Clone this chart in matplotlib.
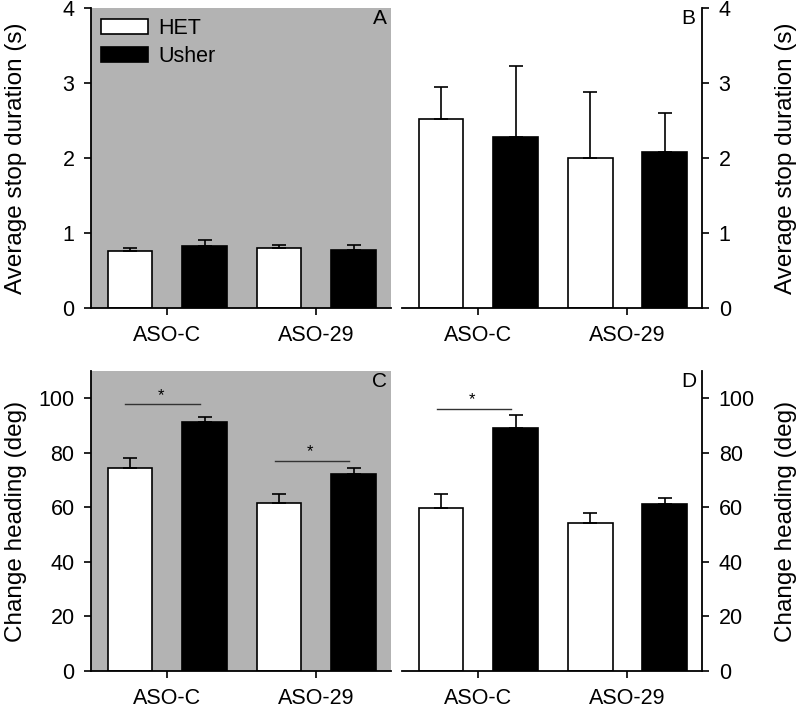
import numpy as np
import matplotlib
matplotlib.use('Agg')
import matplotlib.pyplot as plt
import matplotlib.patches as patches

plt.rcParams['font.family'] = ['Liberation Sans', 'DejaVu Sans']

# -- data
groups = ['ASO-C', 'ASO-29']
series = ['HET', 'Usher']

stop_dark_het = [0.76, 0.81]
stop_dark_het_err = [0.04, 0.04]
stop_dark_ush = [0.83, 0.78]
stop_dark_ush_err = [0.08, 0.07]

stop_light_het = [2.53, 2.00]
stop_light_het_err = [0.42, 0.89]
stop_light_ush = [2.28, 2.09]
stop_light_ush_err = [0.95, 0.51]

head_dark_het = [74.4, 61.6]
head_dark_het_err = [3.8, 3.4]
head_dark_ush = [91.2, 72.3]
head_dark_ush_err = [2.1, 2.2]

head_light_het = [59.7, 54.2]
head_light_het_err = [5.2, 3.7]
head_light_ush = [89.2, 61.1]
head_light_ush_err = [4.8, 2.4]

# significance bars: (group index, height)
sig_dark = [(0, 98.0), (1, 77.2)]
sig_light = [(0, 96.3)]

gray = '#b3b3b3'
fs = 15.5


def draw_panel(ax, het, het_err, ush, ush_err, letter, ylabel, ylim, yticks, shaded):
    x = np.arange(len(groups))
    w = 0.30
    off = 0.25
    ekw = dict(elinewidth=1.2, capthick=1.2, ecolor='black')
    ax.bar(x - off, het, w, color='white', edgecolor='black', linewidth=1.2,
           yerr=[np.zeros(len(het)), het_err], capsize=5, error_kw=ekw, zorder=2)
    ax.bar(x + off, ush, w, color='black', edgecolor='black', linewidth=1.2,
           yerr=[np.zeros(len(ush)), ush_err], capsize=5, error_kw=ekw, zorder=2)
    ax.set_xlim(-0.51, 1.5)
    ax.set_ylim(*ylim)
    ax.set_yticks(yticks)
    ax.set_xticks(x)
    ax.set_xticklabels(groups, fontsize=fs)
    ax.tick_params(axis='x', length=5, width=1.2, pad=7)
    ax.tick_params(axis='y', length=5, width=1.2, pad=7, labelsize=fs)
    ax.spines['top'].set_visible(False)
    for s in ['left', 'right', 'bottom']:
        ax.spines[s].set_linewidth(1.3)
    if shaded:
        ax.set_facecolor(gray)
        ax.spines['right'].set_visible(False)
        ax.set_ylabel(ylabel, fontsize=17.5)
        ax.yaxis.set_label_coords(-0.215, 0.5)
        ax.text(0.962, 0.965, letter, transform=ax.transAxes, fontsize=15,
                ha='center', va='center')
    else:
        ax.spines['left'].set_visible(False)
        ax.yaxis.tick_right()
        ax.yaxis.set_label_position('right')
        ax.set_ylabel(ylabel, fontsize=17.5)
        ax.yaxis.set_label_coords(1.245, 0.5)
        ax.text(0.955, 0.965, letter, transform=ax.transAxes, fontsize=15,
                ha='center', va='center')
    return ax


fig, axes = plt.subplots(2, 2, figsize=(8, 7.07), dpi=100)
fig.subplots_adjust(left=0.114, right=0.8775, top=0.988, bottom=0.051,
                    wspace=0.038, hspace=0.21)

axA, axB = axes[0]
axC, axD = axes[1]

draw_panel(axA, stop_dark_het, stop_dark_het_err, stop_dark_ush, stop_dark_ush_err,
           'A', 'Average stop duration (s)', (0, 4), [0, 1, 2, 3, 4], True)
draw_panel(axB, stop_light_het, stop_light_het_err, stop_light_ush, stop_light_ush_err,
           'B', 'Average stop duration (s)', (0, 4), [0, 1, 2, 3, 4], False)
draw_panel(axC, head_dark_het, head_dark_het_err, head_dark_ush, head_dark_ush_err,
           'C', 'Change heading (deg)', (0, 110), [0, 20, 40, 60, 80, 100], True)
draw_panel(axD, head_light_het, head_light_het_err, head_light_ush, head_light_ush_err,
           'D', 'Change heading (deg)', (0, 110), [0, 20, 40, 60, 80, 100], False)

# -- significance markers
for ax, sigs in [(axC, sig_dark), (axD, sig_light)]:
    for gi, h in sigs:
        ax.plot([gi - 0.28, gi + 0.22], [h, h], color='#333333', lw=1.0, zorder=3)
        ax.text(gi - 0.04, h + 0.4, '*', ha='center', va='bottom', fontsize=12)

# -- legend in panel A
handles = [patches.Patch(facecolor='white', edgecolor='black', linewidth=1.2),
           patches.Patch(facecolor='black', edgecolor='black', linewidth=1.2)]
axA.legend(handles, series, loc='upper left', frameon=False, fontsize=15.5,
           handlelength=2.2, handleheight=0.7, handletextpad=0.45,
           labelspacing=0.3, borderaxespad=0.35, borderpad=0.1)

fig.savefig('out.png', dpi=100)
